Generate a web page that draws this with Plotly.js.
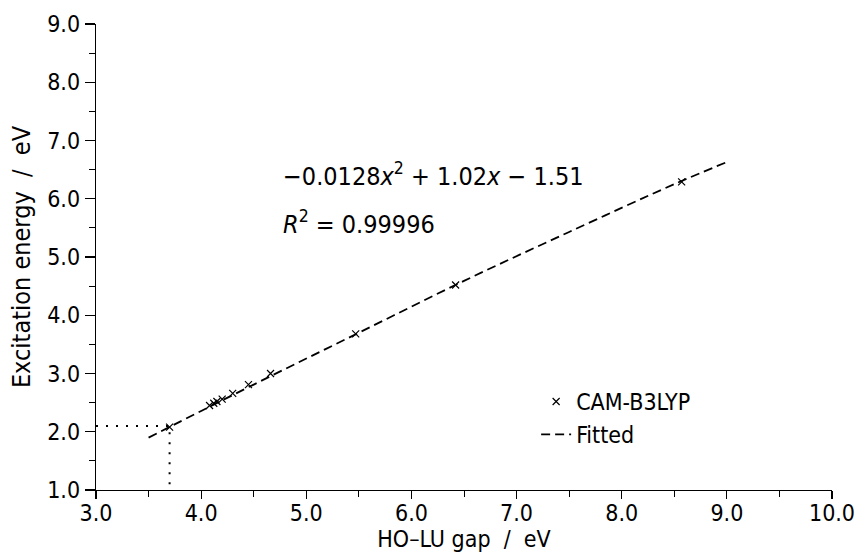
<!DOCTYPE html>
<html>
<head>
<meta charset="utf-8">
<script src="https://cdn.plot.ly/plotly-3.0.1.min.js"></script>
<style>html,body{margin:0;padding:0;background:#fff;}#chart{width:863px;height:554px;}</style>
</head>
<body>
<div id="chart"></div>
<script>
// Data
const gapValues = [3.70, 4.08, 4.12, 4.15, 4.20, 4.30, 4.45, 4.66, 5.47, 6.42, 8.57];
const excitationValues = [2.08, 2.45, 2.49, 2.52, 2.56, 2.66, 2.81, 3.00, 3.68, 4.52, 6.29];
const fitX = [3.5, 4.5, 5.5, 6.5, 7.5, 8.5, 9.0];
const fitY = [1.90, 2.81, 3.70, 4.59, 5.43, 6.25, 6.63];
const guideX = [3.0, 3.7, 3.7];
const guideY = [2.1, 2.1, 1.0];
const seriesNames = ["CAM-B3LYP", "Fitted"];
const xTitle = "HO–LU gap&nbsp;&nbsp;/&nbsp;&nbsp;eV";
const yTitle = "Excitation energy&nbsp;&nbsp;/&nbsp;&nbsp;eV";
const equationText = "−0.0128<i>x</i><sup>2</sup>&nbsp;+&nbsp;1.02<i>x</i>&nbsp;−&nbsp;1.51";
const r2Text = "<i>R</i><sup>2</sup>&nbsp;=&nbsp;0.99996";

const FONT = "DejaVu Sans Condensed, Liberation Sans Narrow, DejaVu Sans, sans-serif";
const FS = 23;
const FT = 25;

const traces = [
  {
    x: guideX, y: guideY, mode: "lines", showlegend: false, hoverinfo: "skip",
    line: {color: "#000", width: 2, dash: "2px,8px"}
  },
  {
    x: fitX, y: fitY, mode: "lines", name: seriesNames[1],
    line: {color: "#000", width: 1.8, dash: "9px,5px", shape: "spline"}
  },
  {
    x: gapValues, y: excitationValues, mode: "markers", name: seriesNames[0],
    marker: {symbol: "x-thin", size: 7, color: "#000", line: {color: "#000", width: 1.2}}
  }
];

const axisCommon = {
  showline: true, linecolor: "#000", linewidth: 1.3,
  ticks: "outside", ticklen: 10, tickwidth: 1.2, tickcolor: "#000",
  showgrid: false, zeroline: false, mirror: false,
  tickformat: ".1f", dtick: 1,
  tickfont: {family: FONT, size: FS, color: "#000"},
  minor: {dtick: 0.5, ticks: "outside", ticklen: 6, tickwidth: 1, tickcolor: "#000", showgrid: false}
};

const layout = {
  width: 863, height: 554,
  margin: {l: 96, r: 31, t: 24, b: 64},
  paper_bgcolor: "#fff", plot_bgcolor: "#fff",
  font: {family: FONT, color: "#000"},
  xaxis: Object.assign({}, axisCommon, {
    range: [3, 10], tick0: 3, ticklen: 8, ticklabelstandoff: -6,
    title: {text: xTitle, font: {family: FONT, size: 23, color: "#000"}, standoff: 4}
  }),
  yaxis: Object.assign({}, axisCommon, {
    range: [1, 9], tick0: 1,
    title: {text: yTitle, font: {family: FONT, size: FT, color: "#000"}, standoff: 9}
  }),
  showlegend: true,
  legend: {
    x: 0.598, y: 0.236, xanchor: "left", yanchor: "top",
    bgcolor: "rgba(0,0,0,0)", borderwidth: 0,
    font: {family: FONT, size: 23, color: "#000"},
    traceorder: "reversed", tracegroupgap: 0, itemwidth: 30
  },
  annotations: [
    {xref: "paper", yref: "paper", x: 0.252, y: 0.678, xanchor: "left", yanchor: "middle",
     text: equationText, showarrow: false, font: {family: FONT, size: FT, color: "#000"}},
    {xref: "paper", yref: "paper", x: 0.252, y: 0.573, xanchor: "left", yanchor: "middle",
     text: r2Text, showarrow: false, font: {family: FONT, size: FT, color: "#000"}}
  ]
};

Plotly.newPlot("chart", traces, layout, {staticPlot: true, displayModeBar: false});
</script>
</body>
</html>
